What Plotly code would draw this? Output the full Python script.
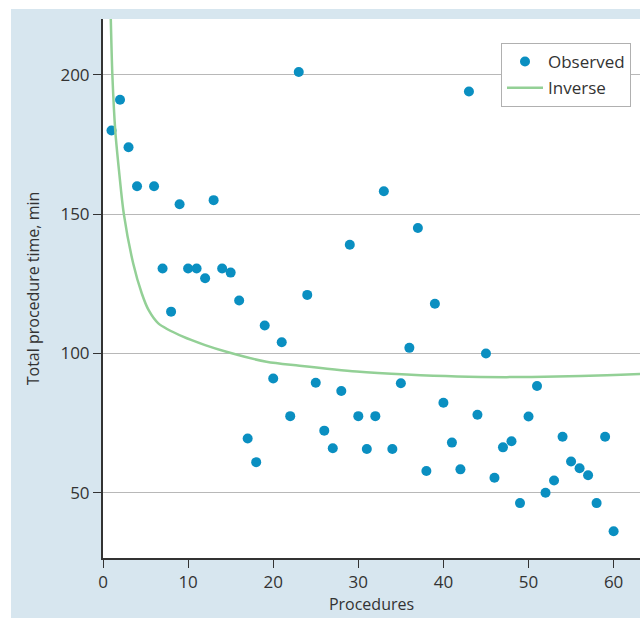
import plotly.graph_objects as go

# ---- data ----
procedures = [1, 2, 3, 4, 6, 7, 8, 9, 10, 11, 12, 13, 14, 15, 16, 17, 18, 19, 20,
              21, 22, 23, 24, 25, 26, 27, 28, 29, 30, 31, 32, 33, 34, 35, 36, 37, 38,
              39, 40, 41, 42, 43, 44, 45, 46, 47, 48, 49, 50, 51, 52, 53, 54, 55, 56,
              57, 58, 59, 60]
observed_time = [180, 191, 174, 160, 160, 130.5, 115, 153.5, 130.5, 130.5, 127, 155,
                 130.5, 129, 119, 69.5, 61, 110, 91, 104, 77.5, 201, 121, 89.5, 72.3,
                 66, 86.5, 139, 77.5, 65.7, 77.5, 158.2, 65.7, 89.3, 102, 145, 57.8,
                 117.8, 82.3, 68, 58.4, 194, 78, 100, 55.4, 66.3, 68.5, 46.3, 77.4,
                 88.3, 50, 54.4, 70.1, 61.2, 58.8, 56.3, 46.3, 70.1, 36.2]

inverse_x = [0.9, 1.1, 1.45, 1.9, 2.45, 3.55, 4.55, 5.35, 6.5, 9.4, 12, 14.5, 19.2,
             23.1, 29.8, 35.7, 41.6, 47.4, 53.3, 59.2, 63.1, 64.1]
inverse_y = [222, 200, 179.6, 165, 150, 132.3, 121.6, 115.6, 110.8, 106, 103, 100.6,
             97, 95.6, 93.5, 92.4, 91.7, 91.5, 91.7, 92.2, 92.6, 92.7]

x_ticks = [0, 10, 20, 30, 40, 50, 60]
y_ticks = [50, 100, 150, 200]

# ---- style ----
W, H = 640, 618
ML, MR, MT, MB = 103, 0, 19, 60
PW, PH = W - ML - MR, H - MT - MB
BG_BLUE = "#d7e6ef"
FONT = "Open Sans"
TXT = "#333333"

fig = go.Figure()
fig.add_trace(go.Scatter(
    x=procedures, y=observed_time, mode="markers", name="Observed",
    marker=dict(color="#0a8fc1", size=10, line=dict(width=0)),
    legendgroup="a",
))
fig.add_trace(go.Scatter(
    x=inverse_x, y=inverse_y, mode="lines", name="Inverse",
    line=dict(color="#93d096", width=2.5, shape="spline", smoothing=0.8),
    legendgroup="b",
))


# convert figure pixels to paper coordinates
def px_x(p):
    return (p - ML) / PW


def px_y(p):
    return 1 - (p - MT) / PH


# white strips left of / above the blue panel
fig.add_shape(type="rect", xref="paper", yref="paper", layer="below",
              x0=px_x(-5), x1=px_x(11), y0=px_y(H + 5), y1=px_y(-5),
              fillcolor="white", line=dict(width=0))
fig.add_shape(type="rect", xref="paper", yref="paper", layer="below",
              x0=px_x(-5), x1=px_x(W + 5), y0=px_y(9), y1=px_y(-5),
              fillcolor="white", line=dict(width=0))

fig.update_layout(
    width=W, height=H,
    margin=dict(l=ML, r=MR, t=MT, b=MB, pad=0),
    paper_bgcolor=BG_BLUE, plot_bgcolor="white",
    font=dict(family=FONT, color=TXT, size=17),
    showlegend=True,
    legend=dict(
        x=px_x(501), y=px_y(43), xanchor="left", yanchor="top",
        bgcolor="white", bordercolor="#b0b0b0", borderwidth=1,
        font=dict(family=FONT, size=17, color=TXT),
        tracegroupgap=1, itemwidth=36,
    ),
    xaxis=dict(
        range=[0, 63.1], tickvals=x_ticks, showgrid=False, zeroline=False,
        showline=True, linecolor="#333333", linewidth=2,
        ticks="outside", ticklen=8, tickwidth=1, tickcolor="#333333",
        tickfont=dict(size=17, family=FONT, color=TXT),
        title=dict(text="Procedures", font=dict(size=16, family=FONT, color=TXT),
                   standoff=4),
    ),
    yaxis=dict(
        range=[26.6, 220], tickvals=y_ticks, showgrid=True, gridcolor="#b8b8b8",
        gridwidth=1, zeroline=False,
        showline=True, linecolor="#333333", linewidth=2,
        ticks="outside", ticklen=8, tickwidth=1, tickcolor="#333333",
        tickfont=dict(size=17, family=FONT, color=TXT),
        title=dict(text="Total procedure time, min",
                   font=dict(size=16, family=FONT, color=TXT), standoff=17),
    ),
)

# remove the browser's default 8 px body margin so the figure fills the window
fig.write_html(
    "out.html",
    config={"displayModeBar": False},
    post_script="document.body.style.margin='0';document.body.style.overflow='hidden';",
)
